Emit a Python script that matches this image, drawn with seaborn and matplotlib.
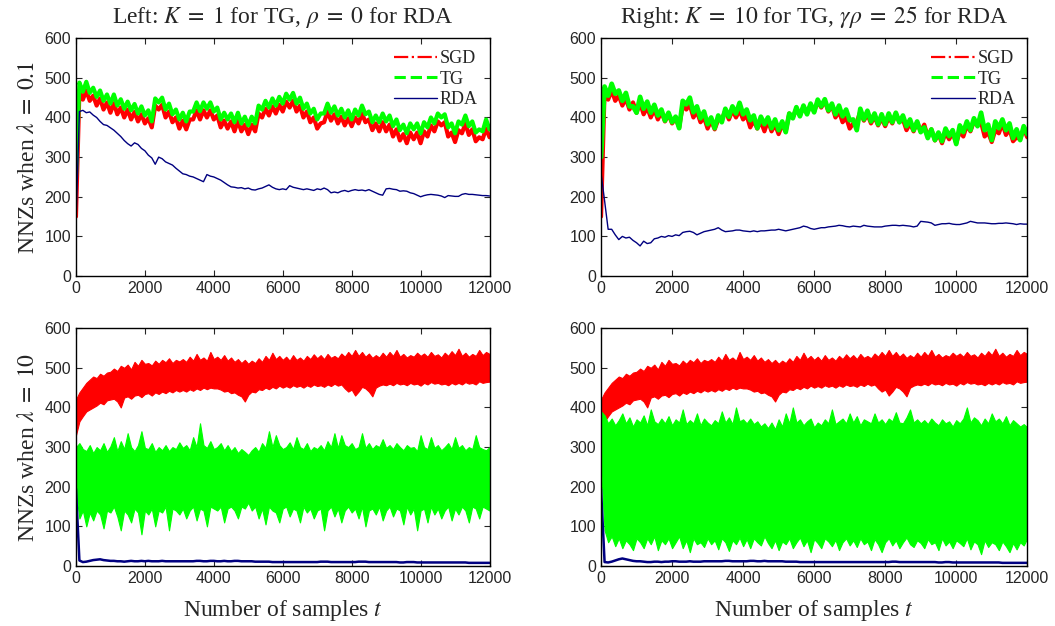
import matplotlib
matplotlib.use('Agg')
import matplotlib.pyplot as plt
import numpy as np
import pandas as pd
import seaborn as sns
from matplotlib.lines import Line2D

# samples t (one reading every 100 samples)
T = np.arange(0, 12001, 100)

# ---- lambda = 0.1 (top row) ----
sgd_top = [150, 468, 445, 468, 442, 455, 430, 448, 420, 438, 412,
           436, 408, 425, 400, 420, 395, 414, 390, 408, 385,
           398, 375, 430, 420, 432, 400, 415, 388, 400, 372,
           392, 370, 395, 395, 418, 395, 418, 400, 418, 395,
           405, 375, 392, 372, 390, 365, 392, 365, 382, 358,
           382, 365, 410, 400, 422, 405, 428, 410, 432, 415,
           440, 425, 442, 415, 430, 400, 415, 388, 400, 372,
           385, 388, 415, 392, 408, 385, 402, 380, 398, 378,
           400, 385, 410, 388, 395, 368, 385, 365, 388, 365,
           382, 352, 370, 342, 358, 335, 362, 345, 362, 335,
           365, 352, 380, 365, 390, 380, 388, 352, 362, 338,
           368, 360, 385, 356, 370, 340, 350, 345, 372, 350]

tg_top_left = [250, 488, 465, 490, 462, 475, 452, 468, 442, 458, 435,
               458, 430, 446, 422, 440, 418, 434, 410, 428, 405,
               418, 390, 448, 438, 450, 420, 435, 408, 420, 395,
               412, 390, 415, 415, 438, 416, 438, 422, 438, 415,
               425, 395, 412, 395, 410, 388, 412, 385, 402, 380,
               402, 385, 430, 420, 442, 425, 448, 430, 452, 435,
               460, 445, 462, 435, 450, 422, 435, 410, 422, 395,
               410, 410, 435, 412, 428, 405, 422, 400, 418, 395,
               420, 405, 430, 408, 415, 388, 405, 388, 410, 390,
               405, 378, 395, 368, 382, 360, 385, 370, 385, 360,
               388, 375, 400, 385, 410, 400, 408, 375, 385, 360,
               390, 382, 405, 378, 390, 362, 370, 365, 395, 370]

tg_top_right = [300, 478, 455, 485, 460, 468, 442, 462, 428, 428, 412,
                452, 422, 440, 412, 432, 405, 420, 392, 412, 388,
                402, 373, 442, 433, 450, 413, 428, 398, 415, 383,
                400, 373, 405, 388, 422, 402, 428, 410, 437, 408,
                420, 393, 405, 373, 402, 383, 400, 373, 395, 368,
                390, 363, 410, 398, 426, 403, 430, 408, 435, 413,
                445, 428, 446, 418, 435, 408, 430, 403, 420, 393,
                395, 368, 422, 395, 417, 390, 410, 383, 408, 383,
                410, 388, 412, 388, 405, 378, 395, 368, 390, 363,
                375, 348, 370, 343, 362, 340, 372, 353, 368, 333,
                380, 363, 390, 368, 398, 378, 412, 368, 382, 343,
                390, 373, 395, 368, 385, 348, 370, 343, 378, 358]

rda_top_left = [130, 415, 418, 412, 414, 406, 400, 390, 382, 380, 374,
                368, 360, 352, 342, 334, 328, 336, 332, 322, 316,
                305, 298, 282, 300, 296, 288, 284, 280, 272, 265,
                258, 256, 252, 250, 246, 242, 238, 256, 252, 250,
                246, 242, 236, 230, 225, 224, 222, 223, 220, 222,
                218, 217, 220, 222, 226, 230, 224, 220, 218, 220,
                218, 228, 224, 222, 220, 218, 220, 218, 216, 220,
                218, 222, 218, 210, 212, 210, 214, 216, 213, 216,
                218, 216, 217, 215, 218, 214, 210, 206, 204, 220,
                221, 219, 218, 214, 215, 214, 210, 208, 204, 200,
                203, 205, 206, 205, 204, 202, 198, 203, 202, 201,
                201, 206, 208, 206, 206, 205, 204, 203, 203, 202]

rda_top_right = [260, 190, 118, 118, 104, 92, 100, 96, 98, 90, 84,
                 76, 88, 82, 84, 94, 96, 100, 98, 102, 100,
                 104, 102, 110, 112, 113, 110, 104, 108, 112, 114,
                 116, 118, 122, 116, 112, 113, 114, 116, 116, 114,
                 113, 112, 114, 112, 114, 114, 115, 116, 116, 118,
                 116, 114, 116, 118, 120, 122, 126, 124, 120, 118,
                 120, 122, 122, 124, 125, 126, 128, 127, 125, 124,
                 126, 125, 124, 128, 126, 125, 124, 124, 124, 126,
                 127, 128, 128, 127, 128, 127, 126, 124, 126, 138,
                 137, 136, 134, 128, 130, 132, 132, 133, 131, 130,
                 130, 132, 134, 138, 136, 134, 134, 134, 133, 132,
                 132, 133, 133, 134, 133, 132, 130, 132, 131, 131]

# ---- lambda = 10 (bottom row): upper / lower edges of the noisy bands ----
sgd_bot_hi = [420, 438, 450, 462, 470, 478, 474, 485, 480, 488, 490,
              498, 492, 505, 500, 508, 496, 515, 505, 520, 510,
              512, 506, 518, 510, 520, 514, 524, 512, 520, 516,
              522, 515, 528, 518, 535, 520, 526, 518, 540, 522,
              528, 520, 532, 518, 526, 515, 522, 512, 520, 510,
              518, 512, 524, 515, 530, 520, 538, 522, 530, 520,
              528, 518, 532, 520, 526, 518, 530, 522, 534, 524,
              532, 522, 535, 525, 530, 524, 536, 528, 540, 530,
              545, 530, 540, 528, 536, 525, 532, 526, 538, 528,
              540, 530, 545, 528, 535, 526, 532, 528, 538, 530,
              536, 528, 540, 530, 534, 526, 538, 530, 542, 532,
              548, 530, 538, 528, 535, 530, 545, 532, 540, 535]

sgd_bot_lo = [330, 365, 378, 390, 395, 400, 405, 412, 408, 418, 420,
              422, 415, 400, 425, 428, 422, 430, 432, 426, 434,
              436, 430, 438, 434, 440, 436, 442, 438, 444, 440,
              444, 440, 446, 442, 448, 444, 450, 446, 450, 448,
              448, 445, 440, 442, 436, 438, 432, 428, 415, 432,
              440, 438, 446, 444, 450, 446, 452, 448, 455, 450,
              454, 450, 456, 452, 455, 450, 456, 452, 458, 454,
              456, 452, 458, 454, 460, 455, 458, 448, 440, 445,
              430, 440, 452, 448, 440, 428, 450, 455, 458, 456,
              460, 456, 462, 458, 460, 456, 462, 458, 460, 455,
              462, 458, 464, 460, 462, 458, 460, 456, 462, 458,
              462, 458, 464, 460, 462, 458, 466, 462, 464, 465]

tg_bot_left_hi = [300, 310, 295, 290, 305, 285, 300, 292, 310, 288, 302,
                  325, 290, 315, 295, 335, 300, 290, 305, 340, 298,
                  295, 310, 288, 300, 292, 305, 290, 300, 295, 312,
                  298, 305, 292, 325, 300, 360, 305, 298, 315, 295,
                  300, 310, 292, 305, 290, 300, 285, 295, 288, 280,
                  292, 300, 288, 310, 298, 340, 300, 330, 305, 295,
                  300, 312, 295, 325, 300, 295, 310, 290, 300, 295,
                  305, 292, 315, 300, 335, 298, 330, 305, 300, 310,
                  295, 300, 335, 298, 310, 295, 305, 300, 320, 298,
                  305, 295, 310, 300, 292, 305, 298, 300, 290, 330,
                  300, 295, 325, 298, 305, 292, 300, 310, 295, 325,
                  298, 305, 292, 300, 295, 330, 300, 295, 292, 300]

tg_bot_left_lo = [190, 120, 140, 100, 135, 115, 140, 130, 95, 140, 135,
                  150, 125, 90, 140, 130, 110, 145, 135, 80, 140,
                  130, 145, 100, 140, 135, 150, 90, 145, 140, 130,
                  145, 120, 140, 150, 115, 145, 140, 100, 150, 145,
                  140, 150, 110, 145, 150, 140, 120, 150, 145, 160,
                  140, 150, 120, 145, 105, 150, 140, 135, 110, 145,
                  150, 125, 145, 140, 110, 150, 135, 145, 120, 140,
                  145, 90, 140, 150, 125, 145, 110, 140, 150, 135,
                  145, 120, 150, 100, 140, 145, 130, 150, 115, 140,
                  150, 125, 145, 140, 105, 150, 130, 145, 90, 140,
                  145, 110, 150, 130, 145, 120, 140, 150, 115, 145,
                  130, 150, 140, 110, 150, 145, 120, 150, 145, 140]

tg_bot_right_hi = [390, 380, 360, 372, 355, 368, 385, 360, 375, 352, 370,
                   362, 380, 355, 395, 365, 358, 372, 360, 378, 355,
                   370, 362, 395, 358, 368, 360, 385, 355, 372, 362,
                   355, 368, 360, 390, 362, 375, 358, 400, 365, 370,
                   360, 372, 358, 365, 352, 360, 348, 362, 345, 370,
                   352, 385, 360, 400, 362, 370, 355, 365, 372, 350,
                   362, 355, 370, 360, 395, 358, 365, 372, 360, 385,
                   362, 378, 355, 370, 365, 360, 385, 362, 370, 358,
                   372, 365, 388, 362, 360, 375, 395, 362, 370, 360,
                   368, 358, 372, 362, 355, 370, 360, 365, 352, 368,
                   360, 372, 400, 362, 375, 368, 355, 372, 360, 385,
                   365, 372, 360, 378, 355, 368, 360, 352, 358, 350]

tg_bot_right_lo = [250, 90, 60, 75, 50, 70, 45, 65, 55, 40, 70,
                   60, 45, 70, 55, 75, 40, 65, 55, 70, 45,
                   60, 75, 45, 65, 35, 70, 55, 60, 48, 70,
                   55, 65, 42, 70, 60, 38, 65, 55, 72, 50,
                   68, 45, 70, 60, 52, 75, 58, 45, 65, 40,
                   62, 55, 70, 45, 60, 72, 50, 65, 35, 68,
                   58, 45, 70, 62, 50, 66, 40, 60, 70, 52,
                   65, 48, 70, 55, 62, 40, 68, 55, 35, 60,
                   70, 52, 65, 45, 60, 72, 55, 48, 65, 58,
                   45, 68, 55, 60, 40, 70, 52, 62, 45, 65,
                   58, 50, 70, 42, 62, 55, 30, 65, 48, 60,
                   55, 40, 62, 50, 35, 58, 42, 60, 52, 70]

rda_bot_left = [195, 14, 10, 11, 13, 15, 16, 17, 15, 14, 13,
                13, 12, 12, 11, 12, 13, 12, 12, 13, 12,
                13, 12, 12, 12, 13, 12, 12, 12, 12, 12,
                12, 12, 12, 12, 13, 13, 12, 12, 13, 13,
                12, 12, 13, 12, 12, 13, 13, 12, 12, 12,
                12, 11, 11, 11, 11, 11, 10, 10, 10, 10,
                10, 10, 10, 10, 10, 10, 10, 10, 10, 10,
                11, 11, 11, 10, 10, 10, 10, 10, 10, 10,
                10, 11, 11, 11, 10, 10, 10, 10, 10, 10,
                10, 10, 10, 9, 9, 10, 10, 10, 9, 9,
                9, 9, 9, 9, 9, 9, 9, 9, 9, 9,
                9, 9, 9, 8, 8, 8, 8, 8, 8, 8]

rda_bot_right = [195, 10, 9, 11, 14, 17, 19, 17, 15, 13, 12,
                 12, 11, 10, 10, 11, 11, 10, 11, 11, 12,
                 12, 11, 11, 11, 12, 11, 11, 11, 12, 12,
                 12, 12, 12, 12, 13, 13, 12, 12, 12, 12,
                 12, 13, 13, 12, 12, 13, 12, 12, 12, 12,
                 12, 11, 11, 11, 11, 10, 10, 10, 10, 10,
                 10, 10, 10, 10, 10, 10, 10, 10, 10, 10,
                 10, 10, 10, 10, 10, 10, 10, 10, 10, 10,
                 10, 11, 11, 10, 10, 10, 10, 10, 10, 10,
                 10, 10, 10, 10, 9, 9, 10, 10, 9, 9,
                 9, 9, 9, 9, 9, 9, 9, 9, 9, 9,
                 9, 9, 8, 8, 8, 8, 8, 8, 8, 8]

titles = ['Left: $K\\;=\\;1$ for TG, $\\rho\\;=\\;0$ for RDA',
          'Right: $K\\;=\\;10$ for TG, $\\gamma\\rho\\;=\\;25$ for RDA']
ylabels = ['NNZs when $\\lambda\\;=\\;0.1$', 'NNZs when $\\lambda\\;=\\;10$']
xlabel = 'Number of samples $t$'
legend_labels = ['SGD', 'TG', 'RDA']

RED, GREEN, NAVY = '#ff0000', '#00ff00', '#000080'

sns.set_style('ticks')
plt.rcParams['font.family'] = ['Liberation Serif', 'DejaVu Serif']
plt.rcParams['mathtext.fontset'] = 'stix'
plt.rcParams['xtick.direction'] = 'in'
plt.rcParams['ytick.direction'] = 'in'
plt.rcParams['xtick.top'] = True
plt.rcParams['ytick.right'] = True
plt.rcParams['xtick.major.size'] = 4
plt.rcParams['ytick.major.size'] = 4
plt.rcParams['axes.linewidth'] = 1.0
plt.rcParams['axes.edgecolor'] = 'black'


def trace(ax, vals, color, lw):
    sns.lineplot(x=T, y=vals, ax=ax, color=color, linewidth=lw, errorbar=None)


def band(ax, lo, hi, color):
    df = pd.DataFrame({'t': np.concatenate([T, T]), 'nnz': lo + hi})
    sns.lineplot(data=df, x='t', y='nnz', ax=ax, color=color, linewidth=0,
                 errorbar=('pi', 100),
                 err_kws={'alpha': 1, 'linewidth': 0.8, 'edgecolor': color})


fig = plt.figure(figsize=(10.55, 6.26), dpi=100)
ax_tl = fig.add_axes([0.072, 0.559, 0.392, 0.380])
ax_tr = fig.add_axes([0.5697, 0.559, 0.404, 0.380])
ax_bl = fig.add_axes([0.072, 0.0958, 0.392, 0.380])
ax_br = fig.add_axes([0.5697, 0.0958, 0.404, 0.380])

# top row
trace(ax_tl, sgd_top, RED, 3.0)
trace(ax_tl, tg_top_left, GREEN, 3.0)
trace(ax_tl, rda_top_left, NAVY, 1.0)
trace(ax_tr, sgd_top, RED, 3.0)
trace(ax_tr, tg_top_right, GREEN, 3.4)
trace(ax_tr, rda_top_right, NAVY, 1.0)

# bottom row
for ax, tg_lo, tg_hi, rda in [(ax_bl, tg_bot_left_lo, tg_bot_left_hi, rda_bot_left),
                              (ax_br, tg_bot_right_lo, tg_bot_right_hi, rda_bot_right)]:
    band(ax, sgd_bot_lo, sgd_bot_hi, RED)
    band(ax, tg_lo, tg_hi, GREEN)
    trace(ax, rda, NAVY, 1.8)

for ax in [ax_tl, ax_tr, ax_bl, ax_br]:
    ax.set_xlim(0, 12000)
    ax.set_ylim(0, 600)
    ax.set_xticks(range(0, 12001, 2000))
    ax.set_yticks(range(0, 601, 100))
    ax.set_xlabel('')
    ax.set_ylabel('')
    for lbl in ax.get_xticklabels() + ax.get_yticklabels():
        lbl.set_fontfamily('Liberation Sans')
        lbl.set_fontsize(11.5)
    for s in ax.spines.values():
        s.set_visible(True)

ax_tl.set_title(titles[0], fontsize=17, pad=11)
ax_tr.set_title(titles[1], fontsize=17, pad=11)
ax_tl.set_ylabel(ylabels[0], fontsize=17, labelpad=4)
ax_bl.set_ylabel(ylabels[1], fontsize=17, labelpad=4)
ax_bl.set_xlabel(xlabel, fontsize=17, labelpad=9)
ax_br.set_xlabel(xlabel, fontsize=17, labelpad=9)

handles = [Line2D([], [], color=RED, linestyle='-.', linewidth=1.6),
           Line2D([], [], color=GREEN, linestyle='--', linewidth=2.2),
           Line2D([], [], color=NAVY, linestyle='-', linewidth=1.0)]
for ax in [ax_tl, ax_tr]:
    ax.legend(handles, legend_labels, loc='upper right', frameon=False,
              fontsize=13, handlelength=2.4, handletextpad=0.15,
              labelspacing=0.2, borderaxespad=0.1, borderpad=0.55)

fig.savefig('out.png', dpi=100)
